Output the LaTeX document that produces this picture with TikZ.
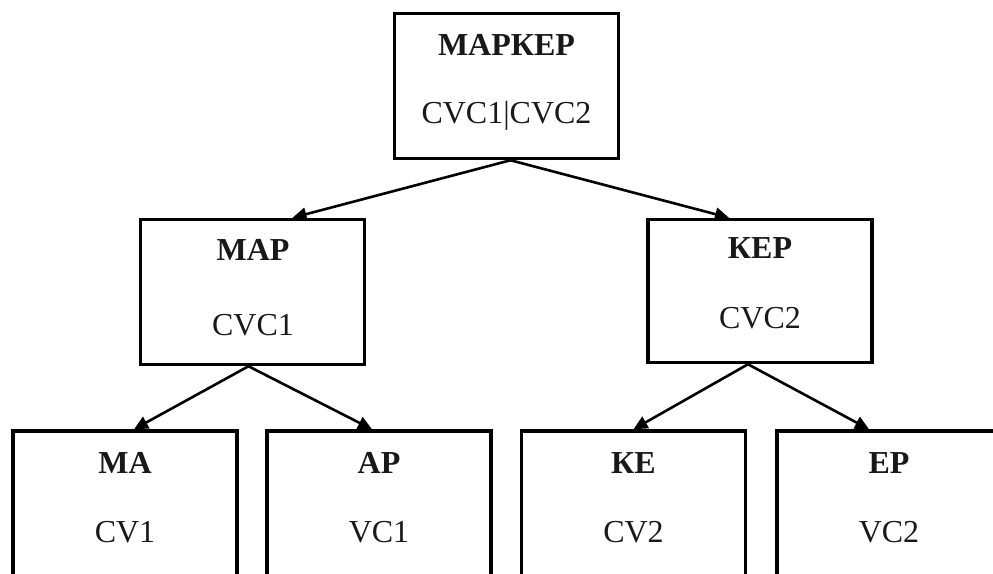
\documentclass[tikz,border=0pt]{standalone}
\usepackage{fontspec}
\setmainfont{Liberation Serif}
\usetikzlibrary{arrows.meta}
\begin{document}
\begin{tikzpicture}[x=1pt,y=-1pt,
  box/.style={draw=black, line width=3.5pt, rectangle, inner sep=0pt, minimum width=224pt},
  lbl/.style={inner sep=0pt, anchor=base, font=\fontsize{32}{38}\selectfont, text=black!90},
  hd/.style={lbl, font=\fontsize{32}{38}\selectfont\bfseries},
  conn/.style={line width=2.6pt, -{Triangle[length=14pt,width=13pt]}}]
\useasboundingbox (0,0) rectangle (993,573);
\clip (0,0) rectangle (993,573);
% boxes
\node[box, minimum height=145pt] (mk) at (506.5,86) {};
\node[box, minimum height=145pt] (mar) at (252.5,292) {};
\node[box, minimum height=143pt] (ker) at (760,291) {};
\node[box, minimum height=220pt] (ma) at (125,541) {};
\node[box, minimum height=220pt] (ap) at (379,541) {};
\node[box, minimum height=220pt] (ke) at (633.5,541) {};
\node[box, minimum height=220pt] (ep) at (889,541) {};
% texts
\node[hd] (mkt) at (506.5,55) {МАРКЕР};
\node[lbl] (mkc) at (506.5,123) {CVC1|CVC2};
\node[hd] (mart) at (253,260) {МАР};
\node[lbl] (marc) at (253,335) {CVC1};
\node[hd] (kert) at (760,258) {КЕР};
\node[lbl] (kerc) at (760,328) {CVC2};
\node[hd] (mat) at (125,473) {МА};
\node[lbl] (mac) at (125,542) {CV1};
\node[hd] (apt) at (379,473) {АР};
\node[lbl] (apc) at (379,542) {VC1};
\node[hd] (ket) at (633.5,473) {КЕ};
\node[lbl] (kec) at (633.5,542) {CV2};
\node[hd] (ept) at (889,473) {ЕР};
\node[lbl] (epc) at (889,542) {VC2};
% connectors
\draw[conn] ([xshift=4pt]mk.south) -- ([xshift=40pt]mar.north);
\draw[conn] ([xshift=4pt]mk.south) -- ([xshift=-31pt]ker.north);
\draw[conn] ([xshift=-4pt]mar.south) -- ([xshift=9pt]ma.north);
\draw[conn] ([xshift=-4pt]mar.south) -- ([xshift=-7pt]ap.north);
\draw[conn] ([xshift=-12pt]ker.south) -- (ke.north);
\draw[conn] ([xshift=-12pt]ker.south) -- ([xshift=-20pt]ep.north);
\end{tikzpicture}
\end{document}
